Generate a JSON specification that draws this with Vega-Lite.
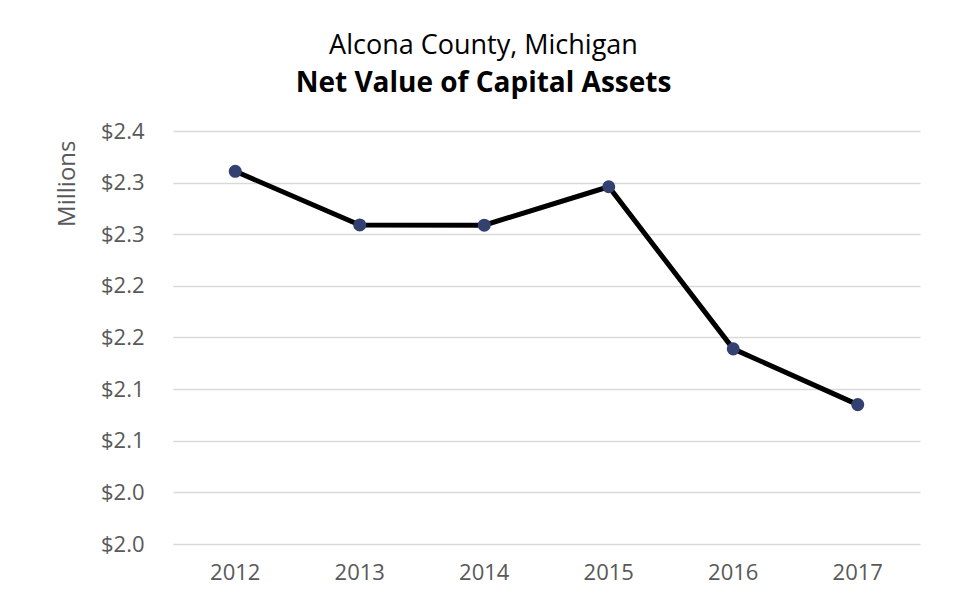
{
  "$schema": "https://vega.github.io/schema/vega-lite/v6.json",
  "width": 747,
  "height": 413,
  "autosize": {"type": "none"},
  "padding": {"left": 173, "top": 131, "right": 34, "bottom": 56},
  "background": "white",
  "config": {
    "view": {"stroke": null},
    "font": "Open Sans"
  },
  "title": {
    "text": "Alcona County, Michigan",
    "subtitle": "Net Value of Capital Assets",
    "anchor": "middle",
    "frame": "group",
    "dx": -63,
    "offset": 21,
    "font": "Open Sans",
    "fontSize": 27,
    "fontWeight": "normal",
    "color": "#000000",
    "subtitleFont": "Open Sans",
    "subtitleFontSize": 28,
    "subtitleFontWeight": "bold",
    "subtitleColor": "#000000",
    "subtitlePadding": 10
  },
  "data": {
    "values": [
      {"year": "2012", "value": 2.361},
      {"year": "2013", "value": 2.309},
      {"year": "2014", "value": 2.3088},
      {"year": "2015", "value": 2.346},
      {"year": "2016", "value": 2.189},
      {"year": "2017", "value": 2.135}
    ]
  },
  "encoding": {
    "x": {
      "field": "year",
      "type": "ordinal",
      "scale": {"type": "band", "paddingInner": 0, "paddingOuter": 0},
      "axis": {
        "title": null,
        "labelAngle": 0,
        "domain": false,
        "ticks": false,
        "labelPadding": 18,
        "labelFontSize": 22,
        "labelColor": "#595959",
        "labelFont": "Open Sans"
      }
    },
    "y": {
      "field": "value",
      "type": "quantitative",
      "scale": {"domain": [2.0, 2.4], "nice": false, "zero": false},
      "axis": {
        "title": "Millions",
        "values": [2.0, 2.05, 2.1, 2.15, 2.2, 2.25, 2.3, 2.35, 2.4],
        "labelExpr": "format(datum.value - 0.000001, '$.1f')",
        "domain": false,
        "ticks": false,
        "labelPadding": 29,
        "labelFontSize": 22,
        "labelColor": "#595959",
        "labelFont": "Open Sans",
        "grid": true,
        "gridColor": "#d9d9d9",
        "gridWidth": 1.5,
        "titleFont": "Open Sans",
        "titleFontSize": 24,
        "titleFontWeight": "normal",
        "titleColor": "#595959",
        "titleX": -106,
        "titleY": 9,
        "titleAngle": -90,
        "titleAlign": "right",
        "titleBaseline": "middle"
      }
    }
  },
  "layer": [
    {
      "mark": {"type": "line", "color": "#000000", "strokeWidth": 5}
    },
    {
      "mark": {"type": "point", "filled": true, "opacity": 1, "color": "#334170", "size": 170}
    }
  ]
}
